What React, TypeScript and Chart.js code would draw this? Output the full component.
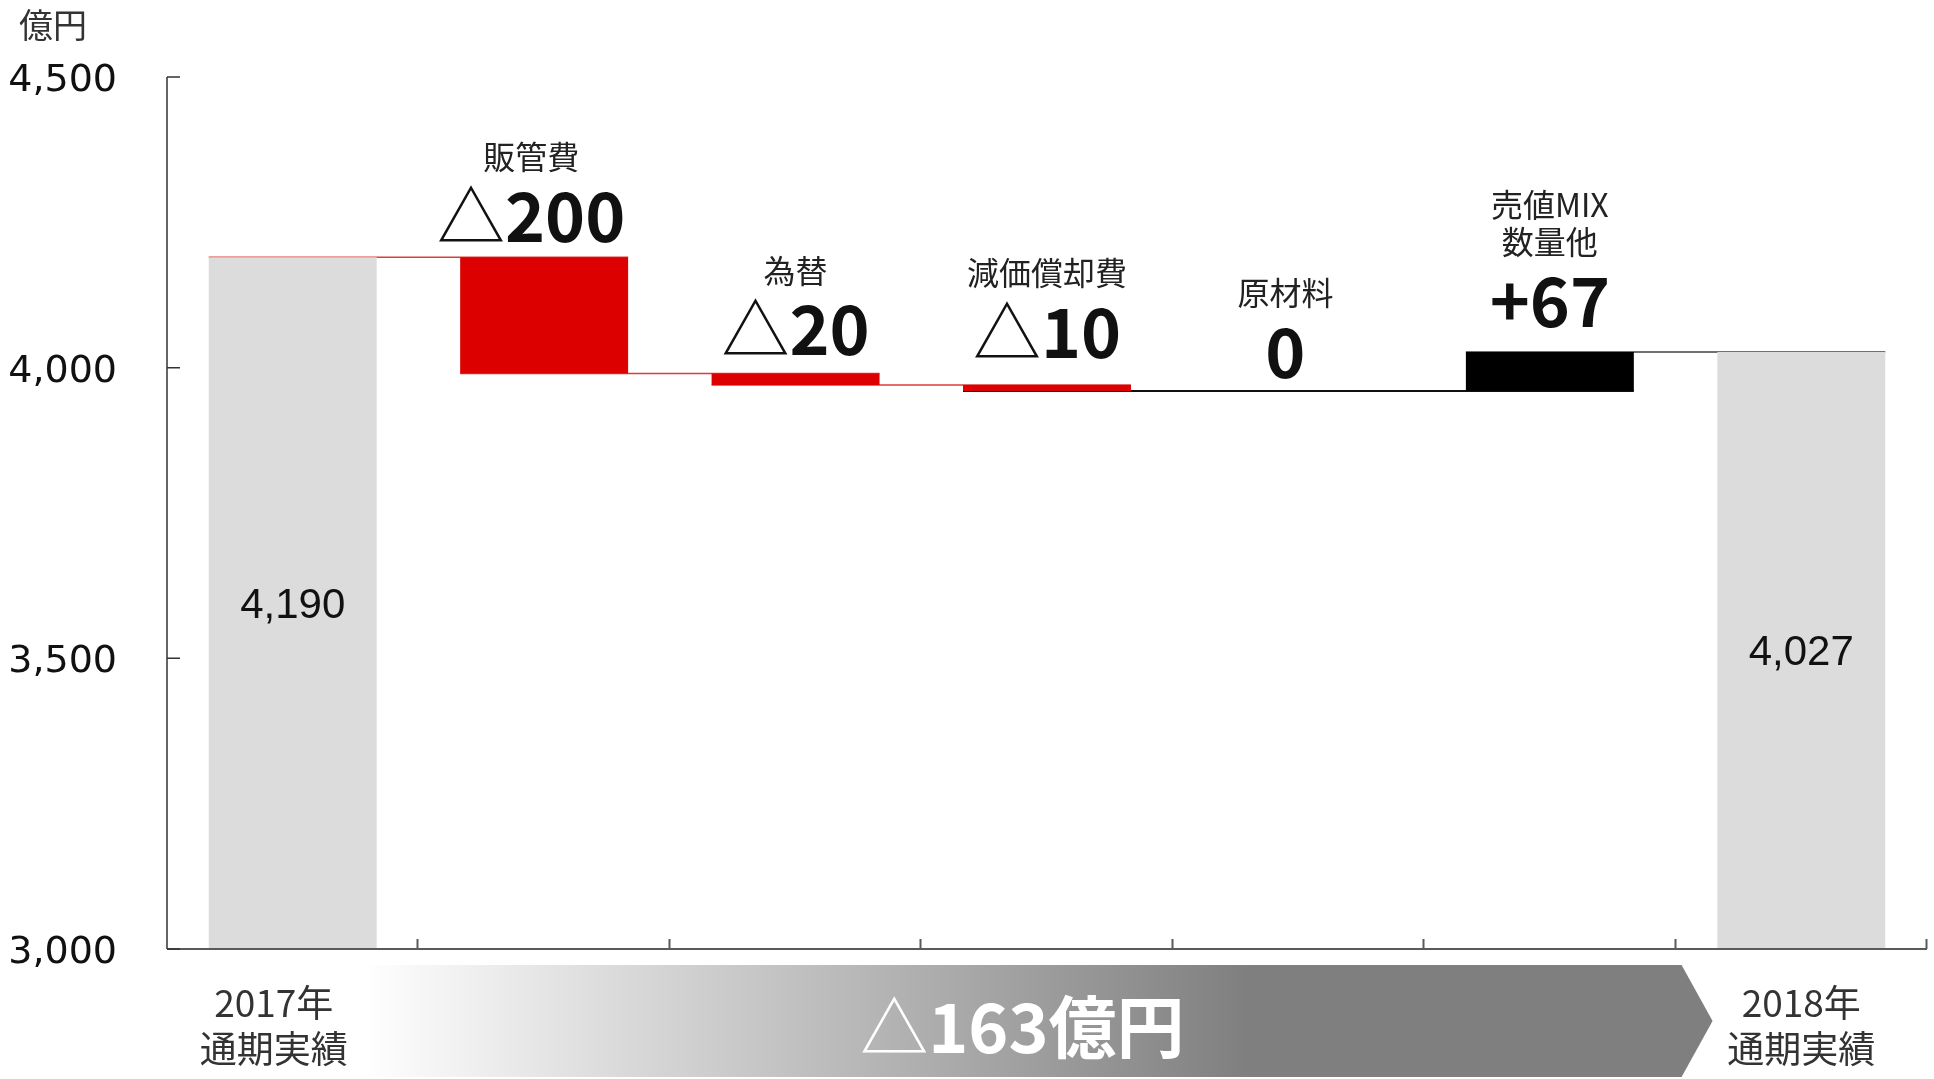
import React, { useEffect, useRef } from 'react';
import { Chart, registerables } from 'chart.js';

Chart.register(...registerables);

// ---------------- data ----------------
const categories = ['2017年通期実績', '販管費', '為替', '減価償却費', '原材料', '売値MIX数量他', '2018年通期実績'];
const axisLabels: string[][] = [['2017年', '通期実績'], [], [], [], [], [], ['2018年', '通期実績']];
const stepNames: string[][] = [[], ['販管費'], ['為替'], ['減価償却費'], ['原材料'], ['売値MIX', '数量他'], []];
const startValue = 4190;
const deltas = [-200, -20, -10, 0, 67];
const endValue = 4027;
const yTickValues = [3000, 3500, 4000, 4500];
const unitLabel = '億円';
const totalUnit = '億円';

// ---------------- styles ----------------
const JP = "'Noto Sans CJK JP', 'Noto Sans CJK SC', sans-serif";
const GRAY = '#dcdcdc';
const RED = '#dc0000';
const BLACK = '#000000';
const connectorColors = ['#e03a3a', '#e03a3a', '#e03a3a', '#111111', '#111111', '#707070'];
const connectorWidths = [1.5, 1.5, 1.5, 2, 2, 2];
// small per-category label nudges (pixels), matching the reference layout
const labelDx = [-19, -13, 0, 0, -13, 0, 0];
const labelDy = [0, 5, 2, -7, 7, -5, 0];

// derived floating bars
const yMin = yTickValues[0];
const yMax = yTickValues[yTickValues.length - 1];
const barData: [number, number][] = [];
const levels: number[] = [];
const barColors: string[] = [];
barData.push([yMin, startValue]);
barColors.push(GRAY);
let lvl = startValue;
levels.push(lvl);
for (const d of deltas) {
  const next = lvl + d;
  barData.push([Math.min(lvl, next), Math.max(lvl, next)]);
  barColors.push(d < 0 ? RED : BLACK);
  lvl = next;
  levels.push(lvl);
}
barData.push([yMin, endValue]);
barColors.push(GRAY);

const fmt = (v: number) => v.toLocaleString('en-US');

type Part = { text: string; font: string };
function deltaParts(d: number, size: number): Part[] {
  const bold = `bold ${size}px ${JP}`;
  const normal = `${size}px ${JP}`;
  if (d < 0) return [{ text: '△', font: normal }, { text: String(Math.abs(d)), font: bold }];
  if (d > 0) return [{ text: '+' + d, font: bold }];
  return [{ text: '0', font: bold }];
}

function drawParts(ctx: CanvasRenderingContext2D, parts: Part[], cx: number, baseline: number, color: string) {
  const widths = parts.map((p) => {
    ctx.font = p.font;
    return ctx.measureText(p.text).width;
  });
  const total = widths.reduce((a, b) => a + b, 0);
  let x = cx - total / 2;
  ctx.fillStyle = color;
  ctx.textAlign = 'left';
  ctx.textBaseline = 'alphabetic';
  parts.forEach((p, i) => {
    ctx.font = p.font;
    ctx.fillText(p.text, x, baseline);
    x += widths[i];
  });
}

const waterfallPlugin = {
  id: 'waterfallDecor',
  beforeDraw(chart: any) {
    const { ctx, chartArea: ca } = chart;
    const xs = chart.scales.x;
    const w = (ca.right - ca.left) / categories.length;
    const left = xs.getPixelForValue(0) + 0.28 * w;
    const bodyRight = ca.left + 6 * w + 6;
    const tipX = bodyRight + 31;
    const top = ca.bottom + 16;
    const bottom = ca.bottom + 128;
    const mid = (top + bottom) / 2;
    ctx.save();
    const g = ctx.createLinearGradient(left, 0, ca.left + 4.3 * w, 0);
    g.addColorStop(0, '#ffffff');
    g.addColorStop(1, '#7f7f7f');
    ctx.fillStyle = g;
    ctx.beginPath();
    ctx.moveTo(left, top);
    ctx.lineTo(bodyRight, top);
    ctx.lineTo(tipX, mid);
    ctx.lineTo(bodyRight, bottom);
    ctx.lineTo(left, bottom);
    ctx.closePath();
    ctx.fill();
    const total = endValue - startValue;
    const parts = deltaParts(total, 68);
    parts.push({ text: totalUnit, font: `bold 68px ${JP}` });
    drawParts(ctx, parts, (left + bodyRight) / 2, mid + 32, '#ffffff');
    ctx.restore();
  },
  beforeDatasetsDraw(chart: any) {
    const { ctx } = chart;
    const ys = chart.scales.y;
    const meta = chart.getDatasetMeta(0);
    ctx.save();
    for (let i = 0; i < meta.data.length - 1; i++) {
      const a = meta.data[i];
      const b = meta.data[i + 1];
      const y = ys.getPixelForValue(levels[i]);
      ctx.strokeStyle = connectorColors[i];
      ctx.lineWidth = connectorWidths[i];
      ctx.beginPath();
      ctx.moveTo(a.x - a.width / 2, y);
      ctx.lineTo(b.x + b.width / 2, y);
      ctx.stroke();
    }
    ctx.restore();
  },
  afterDatasetsDraw(chart: any) {
    const { ctx, chartArea: ca } = chart;
    const ys = chart.scales.y;
    const meta = chart.getDatasetMeta(0);
    const w = (ca.right - ca.left) / categories.length;
    ctx.save();
    // axes
    ctx.strokeStyle = '#5a5a5a';
    ctx.lineWidth = 2;
    ctx.beginPath();
    ctx.moveTo(ca.left, ca.bottom);
    ctx.lineTo(ca.right, ca.bottom);
    for (let i = 1; i <= categories.length; i++) {
      const x = Math.round(ca.left + i * w) - 0.5;
      ctx.moveTo(x, ca.bottom);
      ctx.lineTo(x, ca.bottom - 10);
    }
    ctx.stroke();
    ctx.strokeStyle = '#333333';
    ctx.lineWidth = 1.5;
    ctx.beginPath();
    ctx.moveTo(ca.left, ys.getPixelForValue(yMax));
    ctx.lineTo(ca.left, ca.bottom);
    for (const v of yTickValues) {
      const y = ys.getPixelForValue(v);
      ctx.moveTo(ca.left, y);
      ctx.lineTo(ca.left + 13, y);
    }
    ctx.stroke();

    // y tick labels
    ctx.font = `38px 'DejaVu Sans', Verdana, sans-serif`;
    ctx.fillStyle = '#111111';
    ctx.textAlign = 'right';
    ctx.textBaseline = 'alphabetic';
    for (const v of yTickValues) {
      ctx.fillText(fmt(v), ca.left - 50, ys.getPixelForValue(v) + 14);
    }

    // x category labels (first / last)
    ctx.font = `37px ${JP}`;
    ctx.fillStyle = '#333333';
    ctx.textAlign = 'center';
    ctx.textBaseline = 'middle';
    meta.data.forEach((el: any, i: number) => {
      axisLabels[i].forEach((line, j) => {
        ctx.fillText(line, el.x + labelDx[i], ca.bottom + 54 + j * 46);
      });
    });

    // labels above step bars / inside total bars
    meta.data.forEach((el: any, i: number) => {
      const names = stepNames[i];
      const top = Math.min(el.y, el.base) + labelDy[i];
      const cx = el.x + labelDx[i];
      if (names.length) {
        drawParts(ctx, deltaParts(deltas[i - 1], 68), cx, top - 20, '#111111');
        ctx.font = `32px ${JP}`;
        ctx.fillStyle = '#222222';
        ctx.textAlign = 'center';
        ctx.textBaseline = 'middle';
        names.forEach((n, j) => {
          ctx.fillText(n, cx, top - 105 - (names.length - 1 - j) * 37);
        });
      } else {
        const v = i === 0 ? startValue : endValue;
        ctx.font = `42px 'Liberation Sans', Arial, sans-serif`;
        ctx.fillStyle = '#111111';
        ctx.textAlign = 'center';
        ctx.textBaseline = 'alphabetic';
        ctx.fillText(fmt(v), el.x, (el.y + el.base) / 2 + 15);
      }
    });

    // unit label
    ctx.font = `34px ${JP}`;
    ctx.fillStyle = '#333333';
    ctx.textAlign = 'left';
    ctx.textBaseline = 'middle';
    ctx.fillText(unitLabel, 19, 25);
    ctx.restore();
  },
};

export default function App() {
  const ref = useRef<HTMLCanvasElement>(null);
  useEffect(() => {
    if (!ref.current) return;
    const chart = new Chart(ref.current, {
      type: 'bar',
      data: {
        labels: categories,
        datasets: [
          {
            data: barData as any,
            backgroundColor: barColors,
            borderWidth: 0,
            barPercentage: 0.668,
            categoryPercentage: 1,
          },
        ],
      },
      options: {
        responsive: false,
        devicePixelRatio: 1,
        animation: false,
        layout: { padding: { left: 0, right: 7, top: 77, bottom: 0 } },
        plugins: { legend: { display: false }, tooltip: { enabled: false } },
        scales: {
          x: {
            grid: { display: false, drawTicks: false },
            border: { display: false },
            ticks: { display: false },
            afterFit: (s: any) => {
              s.height = 130;
            },
          },
          y: {
            min: yMin,
            max: yMax,
            grid: { display: false, drawTicks: false },
            border: { display: false },
            afterBuildTicks: (s: any) => {
              s.ticks = yTickValues.map((v) => ({ value: v }));
            },
            ticks: { display: false },
            afterFit: (s: any) => {
              s.width = 167;
            },
          },
        },
      },
      plugins: [waterfallPlugin],
    });
    return () => chart.destroy();
  }, []);
  return (
    <div style={{ position: 'fixed', left: 0, top: 0, width: 1934, height: 1079, background: '#ffffff' }}>
      <canvas ref={ref} width={1934} height={1079} style={{ display: 'block' }} />
    </div>
  );
}
